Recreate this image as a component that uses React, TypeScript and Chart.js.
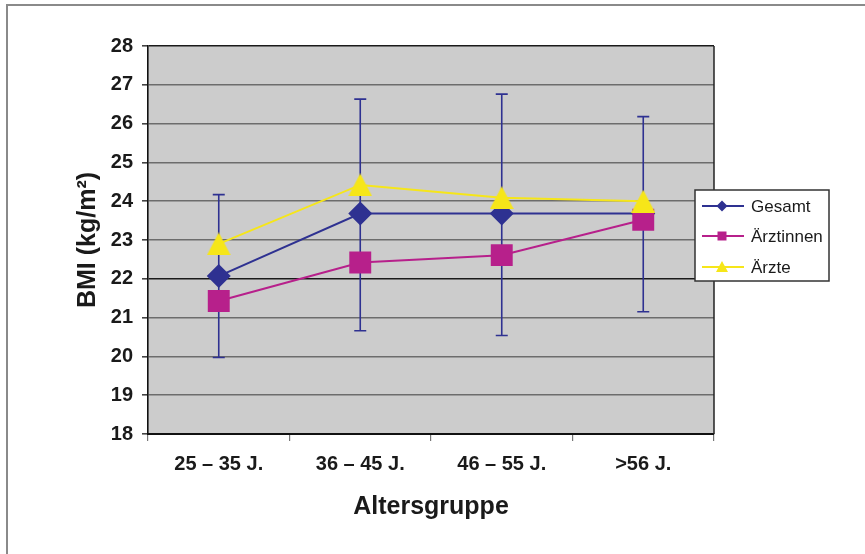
import React, { useEffect, useRef } from 'react';
import { Chart, registerables } from 'chart.js';
Chart.register(...registerables);

const categories = ['25 – 35 J.', '36 – 45 J.', '46 – 55 J.', '>56 J.'];
const gesamt = [22.07, 23.68, 23.68, 23.68];
const gesamtHigh = [24.17, 26.63, 26.76, 26.18];
const gesamtLow = [19.97, 20.66, 20.54, 21.15];
const aerztinnen = [21.43, 22.42, 22.61, 23.52];
const aerzte = [22.9, 24.42, 24.09, 24.0];
const seriesNames = ['Gesamt', 'Ärztinnen', 'Ärzte'];
const yMin = 18;
const yMax = 28;
const yTitle = 'BMI (kg/m²)';
const xTitle = 'Altersgruppe';

const NAVY = '#2e3191';
const MAGENTA = '#b7208b';
const YELLOW = '#f6e619';
const FONT = "'Liberation Sans', Arial, sans-serif";

function makeTriangle(w: number, h: number, color: string) {
  const c = document.createElement('canvas');
  c.width = w;
  c.height = h;
  const g = c.getContext('2d')!;
  g.fillStyle = color;
  g.beginPath();
  g.moveTo(w / 2, 0);
  g.lineTo(w, h);
  g.lineTo(0, h);
  g.closePath();
  g.fill();
  return c;
}

const errorBarPlugin = {
  id: 'errorBars',
  beforeDatasetsDraw(chart: any) {
    const { ctx, chartArea } = chart;
    const x = chart.scales.x;
    const y = chart.scales.y;
    ctx.save();
    // plot right border
    ctx.strokeStyle = '#222';
    ctx.lineWidth = 1.5;
    ctx.beginPath();
    ctx.moveTo(chartArea.right, chartArea.top);
    ctx.lineTo(chartArea.right, chartArea.bottom);
    ctx.stroke();
    // error bars
    ctx.strokeStyle = NAVY;
    ctx.lineWidth = 1.6;
    for (let i = 0; i < categories.length; i++) {
      const px = x.getPixelForValue(i);
      const hi = y.getPixelForValue(gesamtHigh[i]);
      const lo = y.getPixelForValue(gesamtLow[i]);
      ctx.beginPath();
      ctx.moveTo(px, hi);
      ctx.lineTo(px, lo);
      ctx.moveTo(px - 6, hi);
      ctx.lineTo(px + 6, hi);
      ctx.moveTo(px - 6, lo);
      ctx.lineTo(px + 6, lo);
      ctx.stroke();
    }
    ctx.restore();
  },
};

const bgPlugin = {
  id: 'plotBg',
  beforeDraw(chart: any) {
    const { ctx, chartArea } = chart;
    ctx.save();
    ctx.fillStyle = '#cccccc';
    ctx.fillRect(chartArea.left, chartArea.top, chartArea.right - chartArea.left, chartArea.bottom - chartArea.top);
    ctx.restore();
  },
};

const legendPlugin = {
  id: 'customLegend',
  afterDraw(chart: any) {
    const { ctx, chartArea } = chart;
    const bx = chartArea.right - 19;
    const by = chartArea.top + 144;
    const bw = 134;
    const bh = 91;
    ctx.save();
    ctx.fillStyle = '#ffffff';
    ctx.fillRect(bx, by, bw, bh);
    ctx.strokeStyle = '#333';
    ctx.lineWidth = 1.5;
    ctx.strokeRect(bx, by, bw, bh);
    const colors = [NAVY, MAGENTA, YELLOW];
    const rows = [16, 46, 77];
    ctx.font = `17px ${FONT}`;
    ctx.textBaseline = 'middle';
    ctx.textAlign = 'left';
    for (let i = 0; i < seriesNames.length; i++) {
      const ly = by + rows[i];
      const cx = bx + 27;
      ctx.strokeStyle = colors[i];
      ctx.lineWidth = 1.8;
      ctx.beginPath();
      ctx.moveTo(bx + 7, ly);
      ctx.lineTo(bx + 49, ly);
      ctx.stroke();
      ctx.fillStyle = colors[i];
      ctx.beginPath();
      if (i === 0) {
        ctx.moveTo(cx, ly - 5.5);
        ctx.lineTo(cx + 5.5, ly);
        ctx.lineTo(cx, ly + 5.5);
        ctx.lineTo(cx - 5.5, ly);
      } else if (i === 1) {
        ctx.rect(cx - 4.5, ly - 4.5, 9, 9);
      } else {
        ctx.moveTo(cx, ly - 6);
        ctx.lineTo(cx + 6, ly + 5);
        ctx.lineTo(cx - 6, ly + 5);
      }
      ctx.closePath();
      ctx.fill();
      ctx.fillStyle = '#1a1a1a';
      ctx.fillText(seriesNames[i], bx + 56, ly + 1);
    }
    ctx.restore();
  },
};

export default function App() {
  const ref = useRef<HTMLCanvasElement>(null);
  useEffect(() => {
    const tri = makeTriangle(24, 23, YELLOW);
    const chart = new Chart(ref.current!, {
      type: 'line',
      data: {
        labels: categories,
        datasets: [
          {
            label: seriesNames[0],
            data: gesamt,
            borderColor: NAVY,
            backgroundColor: NAVY,
            borderWidth: 2,
            pointStyle: 'rectRot',
            pointRadius: 12,
            pointBorderWidth: 0,
            order: 3,
          },
          {
            label: seriesNames[1],
            data: aerztinnen,
            borderColor: MAGENTA,
            backgroundColor: MAGENTA,
            borderWidth: 2,
            pointStyle: 'rect',
            pointRadius: 15.5,
            pointBorderWidth: 0,
            order: 2,
          },
          {
            label: seriesNames[2],
            data: aerzte,
            borderColor: YELLOW,
            backgroundColor: YELLOW,
            borderWidth: 2,
            pointStyle: tri as any,
            pointRadius: 12,
            pointBorderWidth: 0,
            order: 1,
          },
        ],
      },
      options: {
        animation: false,
        responsive: false,
        devicePixelRatio: 1,
        layout: { padding: { left: 0, top: 46, right: 151, bottom: 0 } },
        plugins: {
          legend: { display: false },
          tooltip: { enabled: false },
        },
        scales: {
          x: {
            offset: true,
            afterFit: (s: any) => { s.height = 120; },
            grid: {
              display: true,
              offset: true,
              drawOnChartArea: false,
              drawTicks: true,
              tickLength: 7,
              tickColor: '#777',
              lineWidth: 1.2,
            },
            border: { display: true, color: '#111', width: 2 },
            ticks: {
              color: '#1a1a1a',
              padding: 11,
              font: { family: FONT, size: 20, weight: 'bold' },
            },
            title: {
              display: true,
              text: xTitle,
              color: '#1a1a1a',
              font: { family: FONT, size: 25, weight: 'bold' },
              padding: { top: 0, bottom: 32 },
            },
          },
          y: {
            min: yMin,
            max: yMax,
            afterFit: (s: any) => { s.width = 148; },
            grid: {
              color: (c: any) => (c.tick && (c.tick.value === 22 || c.tick.value === 28) ? '#1a1a1a' : '#6c6c6c'),
              lineWidth: 1.6,
              tickLength: 6,
              tickColor: '#444',
            },
            border: { display: true, color: '#111', width: 1.6 },
            ticks: {
              stepSize: 1,
              color: '#1a1a1a',
              padding: 9,
              font: { family: FONT, size: 20, weight: 'bold' },
            },
            title: {
              display: true,
              text: yTitle,
              color: '#1a1a1a',
              font: { family: FONT, size: 25, weight: 'bold' },
              padding: { top: 73, bottom: 0 },
            },
          },
        },
      },
      plugins: [bgPlugin, errorBarPlugin, legendPlugin],
    });
    return () => chart.destroy();
  }, []);
  return (
    <div style={{ position: 'fixed', left: 0, top: 0, width: 865, height: 554, background: '#fff', overflow: 'hidden' }}>
      <div style={{ position: 'absolute', left: 6, top: 4, width: 900, height: 600, borderLeft: '2px solid #8a8a8a', borderTop: '2px solid #8a8a8a' }} />
      <canvas ref={ref} width={865} height={554} style={{ position: 'absolute', left: 0, top: 0, width: 865, height: 554 }} />
    </div>
  );
}
